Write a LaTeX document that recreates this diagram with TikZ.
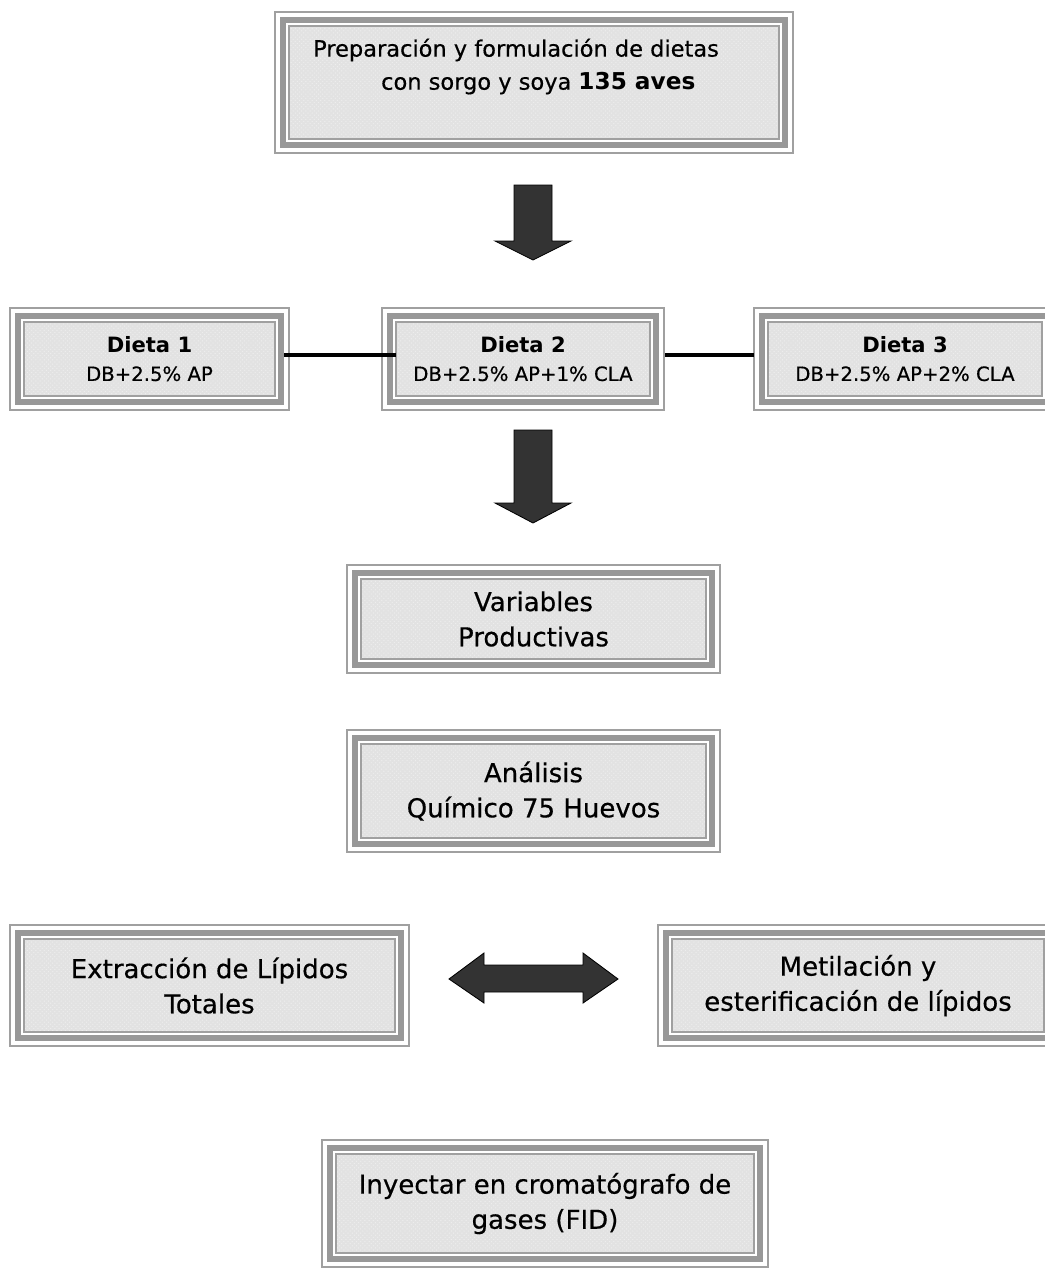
\documentclass[tikz,border=0pt]{standalone}
\usepackage{fontspec}
\setmainfont{DejaVu Sans}[UprightFeatures={FakeBold=0.5}]
\usetikzlibrary{calc,patterns}

\begin{document}
\begin{tikzpicture}[x=0.025cm, y=-0.025cm]
    \def\pxl{0.025cm}

    \definecolor{bandColour}{HTML}{989898}
    \definecolor{lineColour}{HTML}{A0A0A0}
    \definecolor{fillColour}{HTML}{E2E2E2}
    \definecolor{arrowColour}{HTML}{333333}

    \tikzset{
        etapa/.style={fill=fillColour,
            postaction={pattern=crosshatch dots, pattern color=black!7},
            align=center, inner sep=0pt, font=\fontsize{18.5}{25}\selectfont},
        dieta/.style={etapa, font=\fontsize{14}{20}\selectfont},
        enlace/.style={line width=3.2pt, black},
        flecha/.style={fill=arrowColour, draw=black, line width=0.6pt, line join=miter}
    }

    \useasboundingbox (0,0) rectangle (1045,1269);

    % Boxes
    \node[etapa, minimum width=489*\pxl, minimum height=112*\pxl] (prep) at (534,82.5) {};
    \node[align=left, inner sep=0pt, font=\fontsize{16}{23.5}\selectfont] (prepTxt) at (516,66.5)
        {Preparación y formulación de dietas\\\hspace*{1.7cm}con sorgo y soya {\fontsize{16.5}{23.5}\selectfont\bfseries 135 aves}};

    \node[dieta, minimum width=250*\pxl, minimum height=73*\pxl] (d1) at (149.5,359)
        {{\fontsize{15}{20}\selectfont\bfseries Dieta 1}\\DB+2.5\% AP};
    \node[dieta, minimum width=253*\pxl, minimum height=73*\pxl] (d2) at (523,359)
        {{\fontsize{15}{20}\selectfont\bfseries Dieta 2}\\DB+2.5\% AP+1\% CLA};
    \node[dieta, minimum width=273*\pxl, minimum height=73*\pxl] (d3) at (905,359)
        {{\fontsize{15}{20}\selectfont\bfseries Dieta 3}\\DB+2.5\% AP+2\% CLA};

    \node[etapa, minimum width=344*\pxl, minimum height=79*\pxl] (var) at (533.5,619)
        {Variables\\Productivas};
    \node[etapa, minimum width=344*\pxl, minimum height=93*\pxl] (ana) at (533.5,791)
        {Análisis\\Químico 75 Huevos};

    \node[etapa, minimum width=370*\pxl, minimum height=92*\pxl] (ext) at (209.5,985.5)
        {Extracción de Lípidos\\Totales};
    \node[etapa, minimum width=371*\pxl, minimum height=92*\pxl] (met) at (858,985.5)
        {Metilación y\\esterificación de lípidos};

    \node[etapa, minimum width=417*\pxl, minimum height=98*\pxl] (iny) at (545,1203.5)
        {Inyectar en cromatógrafo de\\gases (FID)};

    % Triple frame round every box
    \foreach \n in {prep,d1,d2,d3,var,ana,ext,met,iny} {
        \draw[lineColour, line width=1.3pt] (\n.north west) rectangle (\n.south east);
        \draw[bandColour, line width=4.6pt] ($(\n.north west)+(-6,-6)$) rectangle ($(\n.south east)+(6,6)$);
        \draw[lineColour, line width=1.1pt] ($(\n.north west)+(-14,-14)$) rectangle ($(\n.south east)+(14,14)$);
    }

    % Links between the diets
    \draw[enlace, shorten <=6.7pt] ([yshift=4*\pxl]d1.east) -- ([yshift=4*\pxl]d2.west);
    \draw[enlace, shorten <=11pt, shorten >=10pt] ([yshift=4*\pxl]d2.east) -- ([yshift=4*\pxl]d3.west);

    % Block arrows
    \filldraw[flecha] (514,185) -- (552,185) -- (552,241) -- (571,241) -- (533,260)
        -- (495,241) -- (514,241) -- cycle;
    \filldraw[flecha] (514,430) -- (552,430) -- (552,503) -- (571,503) -- (533,523)
        -- (495,503) -- (514,503) -- cycle;
    \filldraw[flecha] (449,979) -- (484,953) -- (484,965) -- (583,965) -- (583,953)
        -- (618,979) -- (583,1003) -- (583,992) -- (484,992) -- (484,1003) -- cycle;

\end{tikzpicture}
\end{document}
